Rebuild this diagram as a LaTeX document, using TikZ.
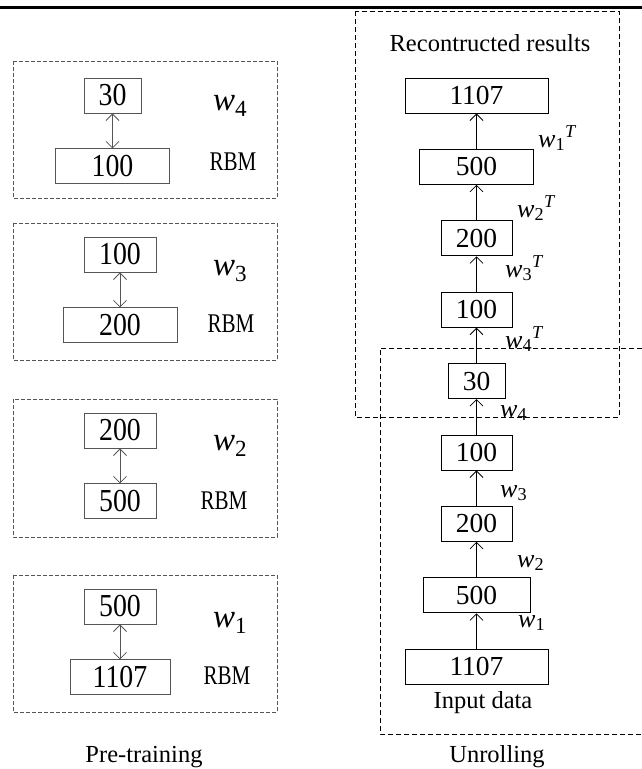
\documentclass[tikz,border=0pt]{standalone}
\usepackage{fontspec}
\setmainfont{Liberation Serif}
\newfontfamily\narrowserif[FakeStretch=0.87]{Liberation Serif}
\newfontfamily\rbmserif[FakeStretch=0.78]{Liberation Serif}
\usetikzlibrary{arrows.meta,positioning}
\definecolor{framegray}{RGB}{85,85,85}
\newcommand{\wsub}[1]{\textit{w}\textsubscript{#1}}
\newcommand{\wsubT}[1]{\textit{w}\textsubscript{#1}\textsuperscript{\textit{T}}}

\begin{document}
\begin{tikzpicture}[x=1pt,y=-1pt,
  numbox/.style={
    draw,
    line width=0.9pt,
    minimum height=35pt,
    inner sep=0pt,
    font=\fontsize{27.5}{31}\selectfont
  },
  pairbox/.style={
    draw=framegray,
    line width=0.9pt,
    minimum height=35pt,
    inner sep=0pt,
    font=\narrowserif\fontsize{32}{36}\selectfont
  },
  wlabel/.style={anchor=base west,inner sep=0pt,font=\fontsize{26}{30}\selectfont},
  bigwlabel/.style={anchor=base west,inner sep=0pt,font=\fontsize{33}{36}\selectfont},
  rbmlabel/.style={inner sep=0pt,font=\rbmserif\fontsize{27}{30}\selectfont},
  caption/.style={anchor=base,inner sep=0pt,font=\fontsize{24.5}{28}\selectfont},
  leftframe/.style={draw=framegray,dash pattern=on 4pt off 2pt,line width=0.9pt},
  rightframe/.style={draw,dash pattern=on 5pt off 3pt,line width=0.8pt},
  uparrow/.style={-{Straight Barb[length=6.5pt,width=13pt]},line width=0.8pt},
  pairarrow/.style={
    {Straight Barb[length=6.5pt,width=13pt]}-{Straight Barb[length=6.5pt,width=13pt]},
    draw=framegray,line width=0.8pt
  }
]
\useasboundingbox (0,0) rectangle (642,769);
\draw[line width=3pt] (0,7.5) -- (642,7.5);

% pre-training, one RBM per frame
\node[pairbox,minimum width=57pt] (a30) at (112.5,95.5) {30};
\node[pairbox,minimum width=114pt,below=35pt of a30] (a100) {100};
\node[pairbox,minimum width=72pt] (b100) at (120,254.5) {100};
\node[pairbox,minimum width=114pt,below=35pt of b100] (b200) {200};
\node[pairbox,minimum width=72pt] (c200) at (120,430.5) {200};
\node[pairbox,minimum width=72pt,below=35pt of c200] (c500) {500};
\node[pairbox,minimum width=72pt] (d500) at (120,606.5) {500};
\node[pairbox,minimum width=100pt,below=35pt of d500] (d1107) {1107};

\foreach \hi/\lo in {a30/a100,b100/b200,c200/c500,d500/d1107}
  \draw[pairarrow] (\hi) -- (\lo);

\node[bigwlabel] (wa) at (213,110) {\wsub{4}};
\node[bigwlabel] (wb) at (213,275) {\wsub{3}};
\node[bigwlabel] (wc) at (213,450) {\wsub{2}};
\node[bigwlabel] (wd) at (213,627) {\wsub{1}};
\node[rbmlabel] (ra) at (233,162) {RBM};
\node[rbmlabel] (rb) at (231,324) {RBM};
\node[rbmlabel] (rc) at (224,501) {RBM};
\node[rbmlabel] (rd) at (227,676) {RBM};

\draw[leftframe] (13,61) rectangle (277,198);
\draw[leftframe] (13,223) rectangle (277,360);
\draw[leftframe] (13,399) rectangle (277,537);
\draw[leftframe] (13,575) rectangle (277,712);
\node[caption] (pre) at (144,762) {Pre-training};

% unrolled stack
\node[numbox,minimum width=143pt] (u1107) at (476.5,95.5) {1107};
\node[numbox,minimum width=114pt,below=35.5pt of u1107] (u500) {500};
\node[numbox,minimum width=71pt,below=35.5pt of u500] (u200) {200};
\node[numbox,minimum width=71pt,below=35.5pt of u200] (u100) {100};
\node[numbox,minimum width=57pt,below=35.5pt of u100] (m30) {30};
\node[numbox,minimum width=71pt,below=35.5pt of m30] (l100) {100};
\node[numbox,minimum width=71pt,below=35.5pt of l100] (l200) {200};
\node[numbox,minimum width=107pt,below=35.5pt of l200] (l500) {500};
\node[numbox,minimum width=143pt,below=35.5pt of l500] (l1107) {1107};

\foreach \lo/\hi in {l1107/l500,l500/l200,l200/l100,l100/m30,
                     m30/u100,u100/u200,u200/u500,u500/u1107}
  \draw[uparrow] (\lo) -- (\hi);

\node[wlabel] (t1) at (538,147) {\wsubT{1}};
\node[wlabel] (t2) at (517,217) {\wsubT{2}};
\node[wlabel] (t3) at (505,277) {\wsubT{3}};
\node[wlabel] (t4) at (505,348) {\wsubT{4}};
\node[wlabel] (e4) at (500,417) {\wsub{4}};
\node[wlabel] (e3) at (500,497) {\wsub{3}};
\node[wlabel] (e2) at (517,567) {\wsub{2}};
\node[wlabel] (e1) at (518,627) {\wsub{1}};

\node[caption] (rec) at (490,51) {Recontructed results};
\node[caption] (inp) at (483,708) {Input data};
\draw[rightframe] (355,11) rectangle (619,417);
\draw[rightframe] (642,348) -- (380,348) -- (380,734) -- (642,734);
\node[caption] (unr) at (497,762) {Unrolling};
\end{tikzpicture}
\end{document}
